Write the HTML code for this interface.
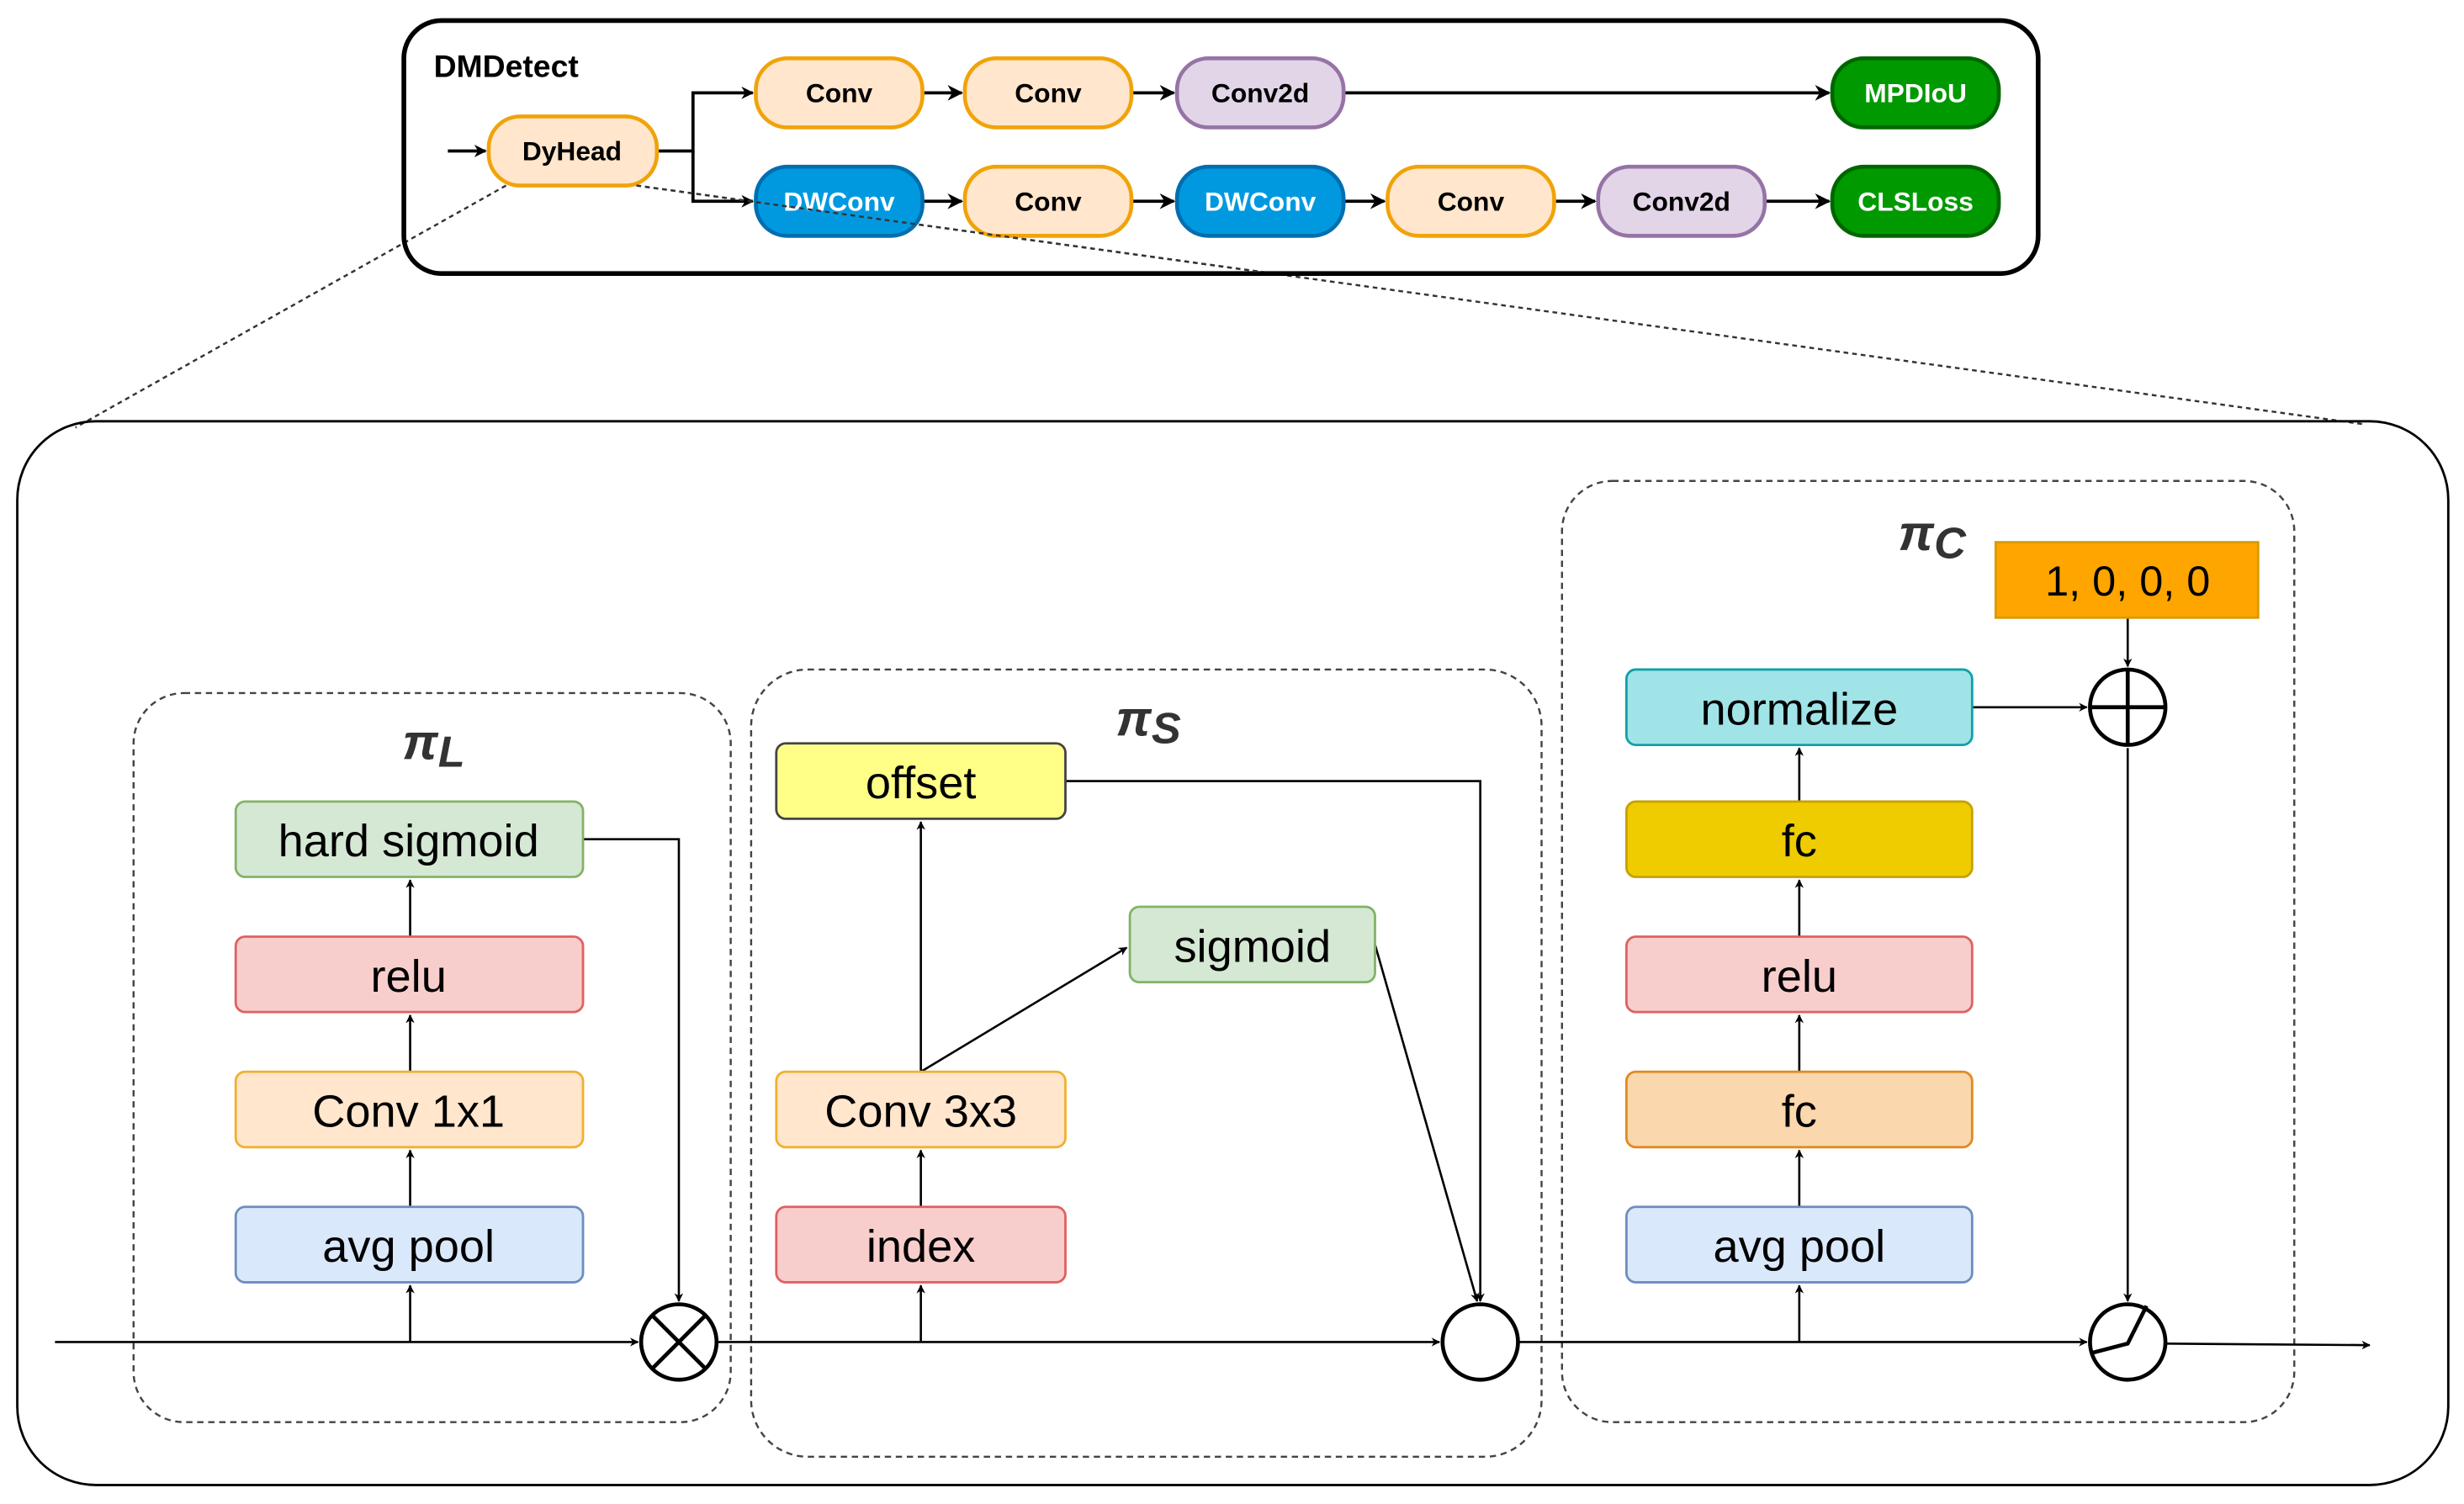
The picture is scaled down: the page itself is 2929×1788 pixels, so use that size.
<!DOCTYPE html>
<html><head><meta charset="utf-8"><style>
html,body{margin:0;padding:0;background:#fff;width:2929px;height:1788px;overflow:hidden}
svg{display:block}
text{font-family:"Liberation Sans",sans-serif}
.b{font-weight:bold;font-size:17px}
.t{font-size:29px}
.p{font-size:32px;font-weight:bold;font-style:italic;fill:#333}
</style></head><body>
<svg width="2929" height="1788" viewBox="0 0 1568 957" xmlns="http://www.w3.org/2000/svg">
<defs>
<marker id="a" viewBox="0 0 10 10" refX="9" refY="5" markerWidth="5" markerHeight="5" orient="auto"><path d="M0,0L10,5L0,10L3,5z" fill="#000"/></marker>
<marker id="ab" viewBox="0 0 10 10" refX="9" refY="5" markerWidth="4" markerHeight="4" orient="auto"><path d="M0,0L10,5L0,10L3,5z" fill="#000"/></marker>
</defs>
<!-- dotted zoom lines -->
<line x1="322" y1="118" x2="48" y2="272" stroke="#333" stroke-width="1.3" stroke-dasharray="3,2.5"/>
<line x1="405" y1="118" x2="1505" y2="270" stroke="#333" stroke-width="1.3" stroke-dasharray="3,2.5"/>
<!-- top box -->
<rect x="257" y="13" width="1040" height="161" rx="24" fill="none" stroke="#000" stroke-width="3"/>
<text x="276" y="49" class="b" style="font-size:20px">DMDetect</text>
<g stroke="#000" stroke-width="2" fill="none">
<line x1="285" y1="96" x2="309" y2="96" marker-end="url(#ab)"/>
<polyline points="418,96 441,96 441,59 479,59" marker-end="url(#ab)"/>
<polyline points="441,96 441,128 479,128" marker-end="url(#ab)"/>
<line x1="587" y1="59" x2="612" y2="59" marker-end="url(#a)"/>
<line x1="720" y1="59" x2="747" y2="59" marker-end="url(#a)"/>
<line x1="855" y1="59" x2="1164" y2="59" marker-end="url(#a)"/>
<line x1="587" y1="128" x2="612" y2="128" marker-end="url(#a)"/>
<line x1="720" y1="128" x2="747" y2="128" marker-end="url(#a)"/>
<line x1="855" y1="128" x2="881" y2="128" marker-end="url(#a)"/>
<line x1="989" y1="128" x2="1015" y2="128" marker-end="url(#a)"/>
<line x1="1123" y1="128" x2="1164" y2="128" marker-end="url(#a)"/>
</g>
<g stroke-width="2.5">
<rect x="311" y="74" width="107" height="44" rx="20" fill="#ffe6cc" stroke="#f0a30a"/>
<rect x="481" y="37" width="106" height="44" rx="20" fill="#ffe6cc" stroke="#f0a30a"/>
<rect x="614" y="37" width="106" height="44" rx="20" fill="#ffe6cc" stroke="#f0a30a"/>
<rect x="749" y="37" width="106" height="44" rx="20" fill="#e1d5e7" stroke="#9673a6"/>
<rect x="1166" y="37" width="106" height="44" rx="20" fill="#009900" stroke="#006600"/>
<rect x="481" y="106" width="106" height="44" rx="20" fill="#0099e0" stroke="#006eaf"/>
<rect x="614" y="106" width="106" height="44" rx="20" fill="#ffe6cc" stroke="#f0a30a"/>
<rect x="749" y="106" width="106" height="44" rx="20" fill="#0099e0" stroke="#006eaf"/>
<rect x="883" y="106" width="106" height="44" rx="20" fill="#ffe6cc" stroke="#f0a30a"/>
<rect x="1017" y="106" width="106" height="44" rx="20" fill="#e1d5e7" stroke="#9673a6"/>
<rect x="1166" y="106" width="106" height="44" rx="20" fill="#009900" stroke="#006600"/>
</g>
<g class="b" text-anchor="middle">
<text x="364" y="102">DyHead</text>
<text x="534" y="65">Conv</text>
<text x="667" y="65">Conv</text>
<text x="802" y="65">Conv2d</text>
<text x="1219" y="65" fill="#fff">MPDIoU</text>
<text x="534" y="134" fill="#fff">DWConv</text>
<text x="667" y="134">Conv</text>
<text x="802" y="134" fill="#fff">DWConv</text>
<text x="936" y="134">Conv</text>
<text x="1070" y="134">Conv2d</text>
<text x="1219" y="134" fill="#fff">CLSLoss</text>
</g>
<!-- redraw dotted line over top (it crosses the DWConv) -->
<line x1="405" y1="118" x2="800" y2="172.6" stroke="#333" stroke-width="1.3" stroke-dasharray="3,2.5"/>
<!-- big box -->
<rect x="11" y="268" width="1547" height="677" rx="50" fill="none" stroke="#000" stroke-width="1.5"/>
<g fill="none" stroke="#444" stroke-width="1.3" stroke-dasharray="4,3">
<rect x="85" y="441" width="380" height="464" rx="32"/>
<rect x="478" y="426" width="503" height="501" rx="36"/>
<rect x="994" y="306" width="466" height="599" rx="32"/>
</g>
<text x="256" y="483" class="p">π<tspan font-size="28" dy="5">L</tspan></text>
<text x="710" y="468" class="p">π<tspan font-size="28" dy="5">S</tspan></text>
<text x="1208" y="350" class="p">π<tspan font-size="28" dy="5">C</tspan></text>
<!-- connectors -->
<g stroke="#000" stroke-width="1.4" fill="none">
<line x1="35" y1="854" x2="406" y2="854" marker-end="url(#ab)"/>
<line x1="456" y1="854" x2="916" y2="854" marker-end="url(#ab)"/>
<line x1="966" y1="854" x2="1328" y2="854" marker-end="url(#ab)"/>
<line x1="1378" y1="855" x2="1508" y2="856" marker-end="url(#ab)"/>
<line x1="261" y1="854" x2="261" y2="818" marker-end="url(#ab)"/>
<line x1="261" y1="768" x2="261" y2="732" marker-end="url(#ab)"/>
<line x1="261" y1="682" x2="261" y2="646" marker-end="url(#ab)"/>
<line x1="261" y1="596" x2="261" y2="560" marker-end="url(#ab)"/>
<polyline points="371,534 432,534 432,828" marker-end="url(#ab)"/>
<line x1="586" y1="854" x2="586" y2="818" marker-end="url(#ab)"/>
<line x1="586" y1="768" x2="586" y2="732" marker-end="url(#ab)"/>
<line x1="586" y1="682" x2="586" y2="523" marker-end="url(#ab)"/>
<line x1="586" y1="682" x2="717" y2="603" marker-end="url(#ab)"/>
<polyline points="678,497 942,497 942,828" marker-end="url(#ab)"/>
<line x1="875" y1="601" x2="940" y2="828" marker-end="url(#ab)"/>
<line x1="1145" y1="854" x2="1145" y2="818" marker-end="url(#ab)"/>
<line x1="1145" y1="768" x2="1145" y2="732" marker-end="url(#ab)"/>
<line x1="1145" y1="682" x2="1145" y2="646" marker-end="url(#ab)"/>
<line x1="1145" y1="596" x2="1145" y2="560" marker-end="url(#ab)"/>
<line x1="1145" y1="510" x2="1145" y2="476" marker-end="url(#ab)"/>
<line x1="1255" y1="450" x2="1328" y2="450" marker-end="url(#ab)"/>
<line x1="1354" y1="393" x2="1354" y2="424" marker-end="url(#ab)"/>
<line x1="1354" y1="476" x2="1354" y2="828" marker-end="url(#ab)"/>
</g>
<!-- boxes -->
<g stroke-width="1.5">
<rect x="150" y="510" width="221" height="48" rx="6" fill="#d5e8d4" stroke="#82b366"/>
<rect x="150" y="596" width="221" height="48" rx="6" fill="#f8cecc" stroke="#e06060"/>
<rect x="150" y="682" width="221" height="48" rx="6" fill="#ffe6cc" stroke="#f0b030"/>
<rect x="150" y="768" width="221" height="48" rx="6" fill="#dae8fc" stroke="#6c8ebf"/>
<rect x="494" y="473" width="184" height="48" rx="6" fill="#ffff88" stroke="#444"/>
<rect x="719" y="577" width="156" height="48" rx="6" fill="#d5e8d4" stroke="#82b366"/>
<rect x="494" y="682" width="184" height="48" rx="6" fill="#ffe6cc" stroke="#f0b030"/>
<rect x="494" y="768" width="184" height="48" rx="6" fill="#f8cecc" stroke="#e06060"/>
<rect x="1035" y="426" width="220" height="48" rx="6" fill="#a0e4e8" stroke="#10a0a8"/>
<rect x="1035" y="510" width="220" height="48" rx="6" fill="#eecc00" stroke="#c8a000"/>
<rect x="1035" y="596" width="220" height="48" rx="6" fill="#f8cecc" stroke="#e06060"/>
<rect x="1035" y="682" width="220" height="48" rx="6" fill="#fad7ac" stroke="#e08a20"/>
<rect x="1035" y="768" width="220" height="48" rx="6" fill="#dae8fc" stroke="#6c8ebf"/>
<rect x="1270" y="345" width="167" height="48" fill="#ffa500" stroke="#d79b00"/>
</g>
<g class="t" text-anchor="middle">
<text x="260" y="545">hard sigmoid</text>
<text x="260" y="631">relu</text>
<text x="260" y="717">Conv 1x1</text>
<text x="260" y="803">avg pool</text>
<text x="586" y="508">offset</text>
<text x="797" y="612">sigmoid</text>
<text x="586" y="717">Conv 3x3</text>
<text x="586" y="803">index</text>
<text x="1145" y="461">normalize</text>
<text x="1145" y="545">fc</text>
<text x="1145" y="631">relu</text>
<text x="1145" y="717">fc</text>
<text x="1145" y="803">avg pool</text>
<text x="1354" y="379" style="font-size:27px">1, 0, 0, 0</text>
</g>
<!-- operators -->
<g stroke="#000" stroke-width="2.5" fill="#fff">
<circle cx="432" cy="854" r="24"/>
<circle cx="942" cy="854" r="24"/>
<circle cx="1354" cy="450" r="24"/>
<circle cx="1354" cy="854" r="24"/>
</g>
<g stroke="#000" stroke-width="2.5" fill="none">
<line x1="415" y1="837" x2="449" y2="871"/><line x1="449" y1="837" x2="415" y2="871"/>
<line x1="1330" y1="450" x2="1378" y2="450"/><line x1="1354" y1="426" x2="1354" y2="474"/>
<polyline points="1331,861 1354,855 1366,831"/>
</g>
</svg>
</body></html>
